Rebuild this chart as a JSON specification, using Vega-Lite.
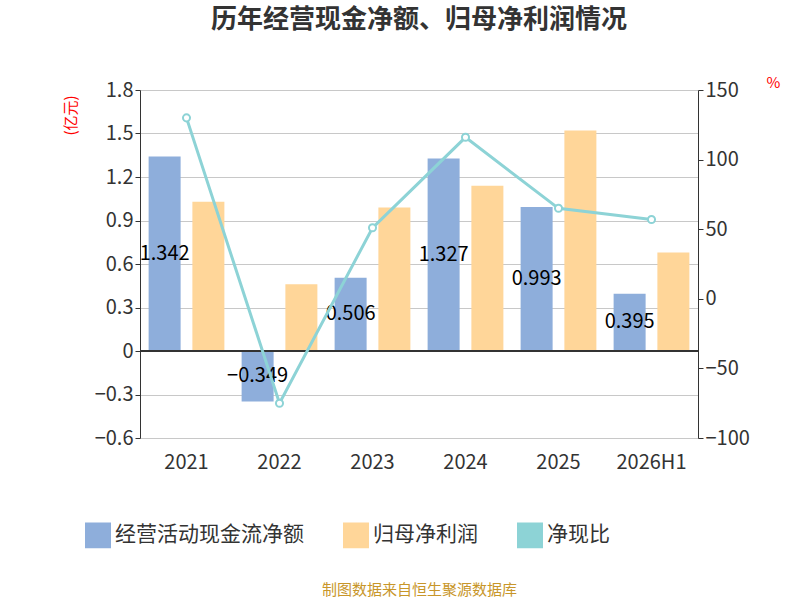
{
  "$schema": "https://vega.github.io/schema/vega-lite/v6.json",
  "width": 558,
  "height": 348,
  "autosize": "none",
  "padding": {"left": 140, "top": 90, "right": 102, "bottom": 162},
  "background": "white",
  "title": {"text": "历年经营现金净额、归母净利润情况", "fontSize": 26, "fontWeight": "bold", "color": "#333", "offset": 42, "font": "Noto Sans CJK SC"},
  "data": {"values": [
    {"year": "2021", "cash": 1.342, "profit": 1.03, "ratio": 130},
    {"year": "2022", "cash": -0.349, "profit": 0.46, "ratio": -75},
    {"year": "2023", "cash": 0.506, "profit": 0.99, "ratio": 51},
    {"year": "2024", "cash": 1.327, "profit": 1.14, "ratio": 116},
    {"year": "2025", "cash": 0.993, "profit": 1.52, "ratio": 65},
    {"year": "2026H1", "cash": 0.395, "profit": 0.68, "ratio": 57}
  ]},
  "config": {"font": "Noto Sans CJK SC", "view": {"stroke": null}},
  "encoding": {
    "x": {"field": "year", "type": "nominal", "scale": {"paddingInner": 0.2, "paddingOuter": 0.1},
      "axis": {"labelAngle": 0, "labelFontSize": 20, "labelColor": "#333", "domain": false, "ticks": false, "labelPadding": 14,
        "title": "制图数据来自恒生聚源数据库", "titleColor": "#c8962a", "titleFontSize": 15, "titleFontWeight": "normal", "titlePadding": 110}}
  },
  "layer": [
    {
      "layer": [
        {
          "transform": [{"fold": ["cash", "profit"]}, {"calculate": "datum.key == 'cash' ? '经营活动现金流净额' : '归母净利润'", "as": "series"}],
          "mark": {"type": "bar", "width": 32},
          "encoding": {
            "xOffset": {"field": "series", "type": "nominal", "sort": ["经营活动现金流净额", "归母净利润"], "scale": {"paddingInner": 0.3}},
            "y": {"field": "value", "type": "quantitative", "scale": {"domain": [-0.6, 1.8]},
              "axis": {"values": [-0.6, -0.3, 0, 0.3, 0.6, 0.9, 1.2, 1.5, 1.8], "format": ".1~f", "labelFontSize": 20, "labelColor": "#333", "tickColor": "#333", "domainColor": "#333", "gridColor": "#c8c8c8",
                "title": "(亿元)", "titleColor": "red", "titleFontSize": 15, "titleFontWeight": "normal", "titleY": 25, "titleX": -62}},
            "color": {"field": "series", "type": "nominal",
              "scale": {"domain": ["经营活动现金流净额", "归母净利润", "净现比"], "range": ["#8eaedb", "#ffd699", "#8dd3d6"]},
              "legend": {"orient": "none", "legendX": -55, "legendY": 432, "direction": "horizontal", "title": null, "labelFontSize": 21, "labelColor": "#333", "symbolType": "square", "symbolSize": 600, "columnPadding": 36, "labelLimit": 300}}
          }
        },
        {
          "mark": {"type": "text", "fontSize": 20, "color": "black"},
          "encoding": {
            "xOffset": {"datum": "经营活动现金流净额", "type": "nominal"},
            "y": {"field": "mid", "type": "quantitative"},
            "text": {"field": "cash", "format": ".3~f"}
          },
          "transform": [{"calculate": "datum.cash / 2", "as": "mid"}]
        },
        {
          "mark": {"type": "rule", "color": "#333", "strokeWidth": 1.5},
          "encoding": {"y": {"datum": 0}, "x": {}}
        }
      ]
    },
    {
      "mark": {"type": "line", "strokeWidth": 3, "point": {"filled": true, "fill": "white", "stroke": "#8dd3d6", "strokeWidth": 2, "size": 50}},
      "encoding": {
        "y": {"field": "ratio", "type": "quantitative", "scale": {"domain": [-100, 150]},
          "axis": {"orient": "right", "values": [-100, -50, 0, 50, 100, 150], "grid": false, "labelFontSize": 20, "labelColor": "#333", "tickColor": "#333", "domainColor": "#333",
            "title": "%", "titleColor": "red", "titleFontSize": 15, "titleFontWeight": "normal", "titleAngle": 0, "titleY": 0, "titleX": 75}},
        "color": {"datum": "净现比"}
      }
    }
  ],
  "resolve": {"scale": {"y": "independent"}}
}
